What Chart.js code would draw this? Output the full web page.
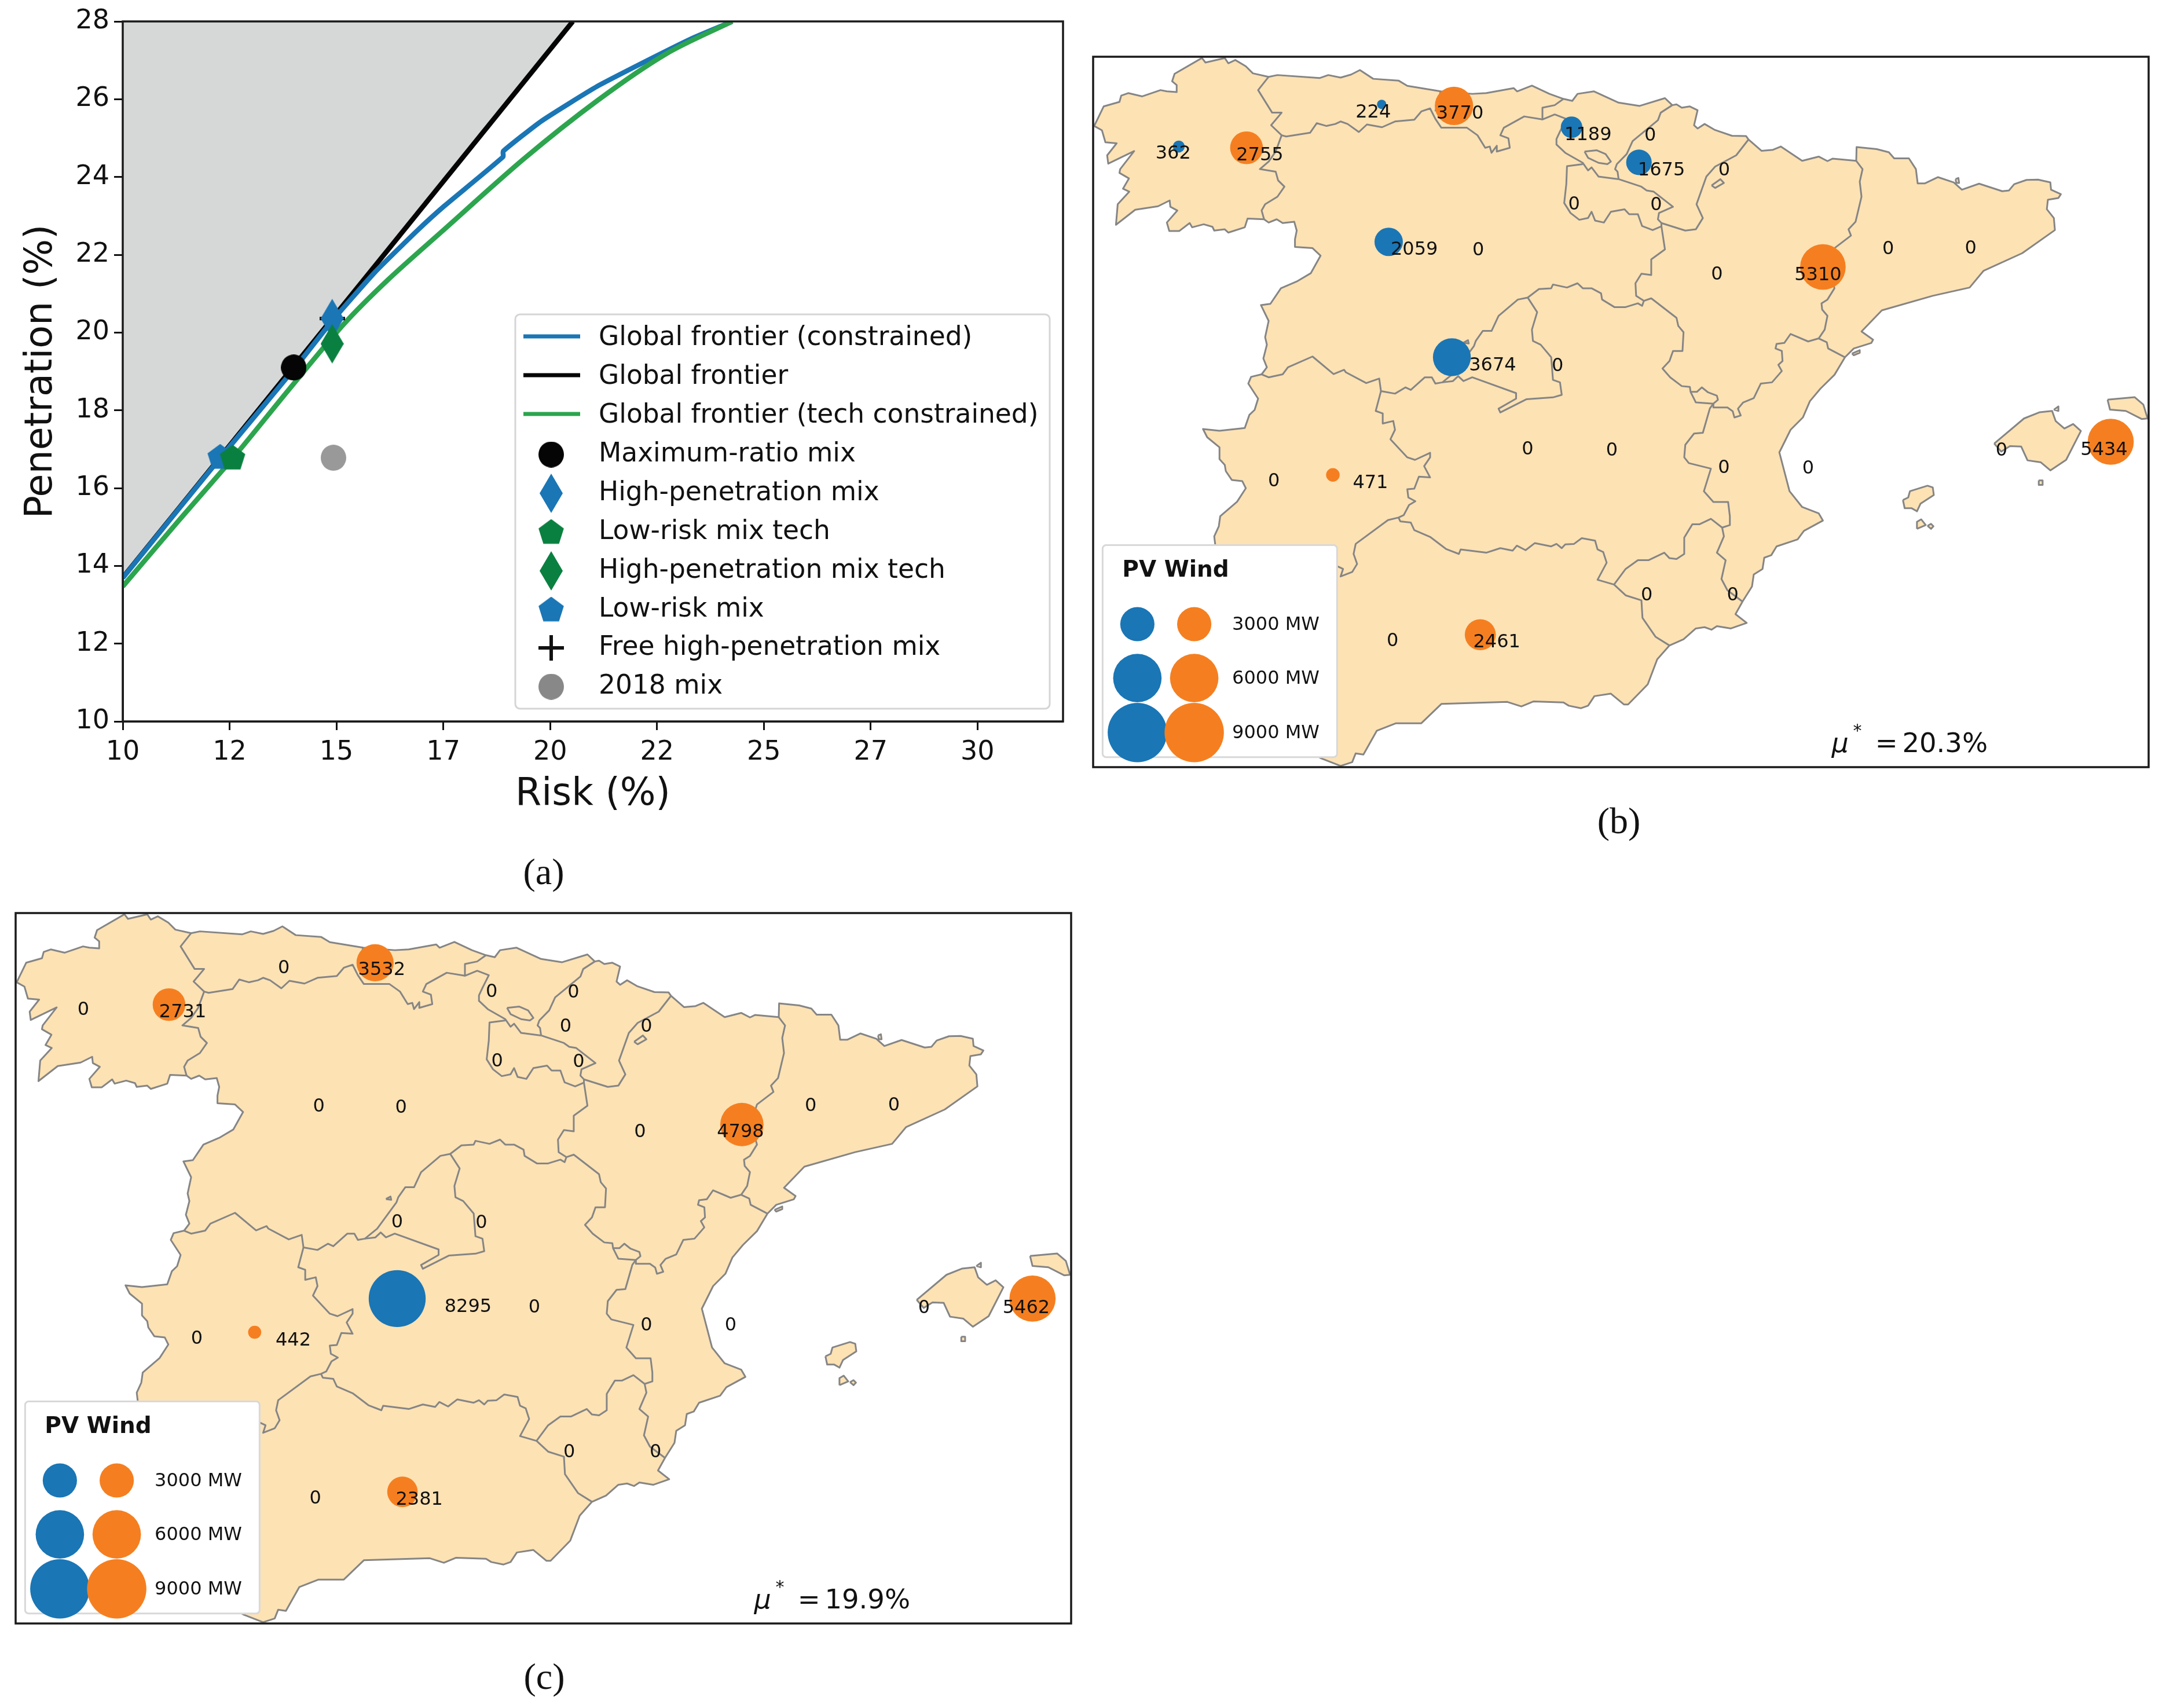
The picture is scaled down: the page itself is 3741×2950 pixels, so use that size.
<!DOCTYPE html>
<html>
<head>
<meta charset="utf-8">
<title>Penetration vs risk and wind/PV siting</title>
<script src="https://cdn.jsdelivr.net/npm/chart.js@4/dist/chart.umd.min.js"></script>
<style>
  html, body { margin: 0; padding: 0; background: #fff; }
  #page { position: relative; width: 3741px; height: 2950px; overflow: hidden; }
  canvas { position: absolute; }
  .caption { position: absolute; font: 64px "Liberation Serif", serif; color: #111; transform: translate(-50%, -50%); }
</style>
</head>
<body>
<div id="page">
  <canvas id="frontier" width="1880" height="1420" style="left:0;top:0"></canvas>
  <canvas id="mapB" width="1831" height="1235" style="left:1884px;top:94px"></canvas>
  <canvas id="mapC" width="1831" height="1235" style="left:23px;top:1573px"></canvas>
  <div class="caption" style="left:939px;top:1506px">(a)</div>
  <div class="caption" style="left:2796px;top:1418px">(b)</div>
  <div class="caption" style="left:940px;top:2896px">(c)</div>
</div>

<script>
// Frontier panel data (risk %, penetration %)
const globalFrontier = [[10, 13.7], [20.53, 28]];
const constrainedFrontier = [[10, 13.69], [12.3, 16.8], [14, 19.05], [14.9, 20.3], [15.9, 21.55], [16.87, 22.6], [17.52, 23.25], [18.9, 24.52], [18.9, 24.66], [19.8, 25.44], [21.1, 26.33], [22.48, 27.11], [23.37, 27.59], [24.26, 28]];
const techFrontier = [[10, 13.47], [11.3, 15.15], [12.6, 16.8], [13.9, 18.55], [15.16, 20.2], [16.2, 21.35], [17.47, 22.6], [19.39, 24.47], [21.1, 25.96], [22.72, 27.17], [24.26, 28]];
const maxRatioMix = [14, 19.1];
const highPenMix = [14.9, 20.36];
const lowRiskTechMix = [12.57, 16.78];
const highPenTechMix = [14.9, 19.71];
const lowRiskMix = [12.28, 16.8];
const freeHighPenMix = [14.9, 20.36];
const mix2018 = [14.93, 16.78];
const riskTicks = [10, 12.5, 15, 17.5, 20, 22.5, 25, 27.5, 30];
const riskTickLabels = ["10", "12", "15", "17", "20", "22", "25", "27", "30"];
const frontierLegend = ["Global frontier (constrained)", "Global frontier", "Global frontier (tech constrained)", "Maximum-ratio mix", "High-penetration mix", "Low-risk mix tech", "High-penetration mix tech", "Low-risk mix", "Free high-penetration mix", "2018 mix"];

// Map outline, traced in map units
const coast = [[33,318],[60,240],[105,222],[110,197],[130,187],[170,200],[222,175],[240,180],[268,183],[268,155],[255,140],[262,110],[340,47],[350,65],[405,47],[415,68],[435,55],[465,80],[485,108],[530,122],[555,115],[675,127],[700,115],[735,125],[765,113],[790,95],[828,130],[900,137],[925,158],[1020,180],[1110,190],[1150,187],[1228,167],[1238,180],[1280,157],[1330,190],[1370,210],[1395,218],[1410,190],[1457,180],[1527,225],[1587,238],[1659,207],[1680,235],[1692,232],[1707,245],[1730,240],[1752,255],[1742,315],[1752,328],[1772,310],[1800,333],[1850,357],[1890,358],[1897,372],[1934,417],[1967,413],[1989,400],[2050,457],[2097,440],[2122,458],[2137,448],[2204,457],[2205,402],[2262,410],[2297,423],[2312,447],[2354,447],[2374,490],[2379,547],[2399,547],[2437,522],[2482,543],[2505,572],[2554,548],[2620,578],[2639,575],[2654,550],[2689,533],[2722,532],[2757,543],[2759,572],[2787,590],[2780,605],[2750,612],[2747,650],[2767,685],[2770,733],[2677,825],[2567,895],[2527,962],[2422,995],[2277,1053],[2219,1137],[2252,1170],[2247,1183],[2197,1205],[2172,1240],[2142,1310],[2102,1365],[2072,1415],[2052,1480],[2017,1529],[1985,1619],[2014,1774],[2050,1837],[2097,1862],[2109,1891],[2055,1932],[2037,1966],[1977,1994],[1962,2029],[1942,2039],[1937,2084],[1912,2106],[1907,2154],[1880,2214],[1860,2264],[1892,2299],[1847,2321],[1807,2312],[1792,2326],[1772,2316],[1747,2321],[1712,2364],[1672,2389],[1637,2444],[1610,2544],[1554,2624],[1542,2624],[1505,2581],[1458,2591],[1440,2629],[1420,2639],[1385,2629],[1370,2616],[1285,2612],[1250,2632],[1210,2614],[1022,2622],[965,2699],[893,2699],[838,2729],[800,2824],[778,2819],[768,2854],[735,2869],[680,2839],[620,2790],[520,2700],[370,2660],[380,2400],[378,1989],[375,1954],[388,1914],[392,1874],[440,1816],[465,1762],[455,1734],[425,1729],[408,1694],[405,1669],[390,1646],[390,1599],[355,1559],[343,1526],[390,1533],[462,1522],[475,1470],[490,1450],[500,1405],[472,1345],[480,1318],[510,1308],[525,1280],[515,1245],[525,1190],[520,1160],[530,1095],[508,1032],[535,1027],[565,965],[610,938],[650,905],[678,835],[655,805],[605,800],[605,770],[610,735],[603,700],[570,705],[553,690],[530,703],[517,690],[470,687],[462,722],[415,743],[405,730],[375,735],[370,720],[345,710],[312,722],[305,705],[275,737],[247,737],[240,703],[270,655],[250,640],[248,615],[215,638],[150,652],[95,712],[100,630],[133,580],[115,568],[132,527],[105,505],[107,490],[147,418],[73,468],[70,435],[97,387],[65,383],[55,335],[33,318]];

const islands = [
  [[2597,1584],[2682,1484],[2727,1459],[2762,1454],[2772,1494],[2797,1524],[2822,1506],[2844,1534],[2802,1649],[2757,1691],[2730,1659],[2692,1651],[2674,1596],[2642,1594],[2617,1616],[2597,1584]],
  [[2767,1449],[2780,1436],[2780,1454],[2767,1449]],
  [[2920,1409],[2997,1399],[3022,1429],[3034,1484],[3017,1486],[2972,1454],[2927,1449],[2920,1409]],
  [[2724,1731],[2735,1731],[2735,1749],[2724,1749],[2724,1731]],
  [[2337,1809],[2352,1799],[2357,1774],[2407,1752],[2422,1759],[2425,1789],[2387,1824],[2377,1854],[2362,1842],[2342,1842],[2337,1809]],
  [[2377,1924],[2377,1896],[2389,1886],[2402,1909],[2377,1924]],
  [[2407,1912],[2417,1904],[2424,1914],[2417,1924],[2407,1912]],
  [[2192,1225],[2214,1212],[2214,1222],[2197,1232],[2192,1225]],
  [[2487,530],[2495,525],[2497,545],[2489,545],[2487,530]]
];

const borders = [
  // Galicia
  [[530,122],[500,175],[540,265],[567,265],[537,315],[567,355],[550,420],[530,460],[505,490],[550,500],[557,535],[575,560],[555,600],[520,630],[510,655],[517,690]],
  // Asturias and Cantabria south side
  [[567,355],[580,360],[648,345],[667,307],[695,318],[720,310],[735,300],[755,310],[787,342],[810,312],[853,323],[890,300],[945,293],[965,260],[990,248],[1005,290],[1022,325],[1095,325],[1125,355],[1147,405],[1160,400],[1165,425],[1180,397],[1180,420],[1217,405],[1213,367],[1190,355],[1200,325],[1258,280],[1310,292]],
  [[1020,180],[1005,260]],
  [[1370,210],[1345,235],[1310,245],[1310,292],[1345,272],[1378,290],[1360,340],[1350,370],[1350,392],[1375,425],[1425,465],[1440,495],[1450,483],[1470,520],[1527,530]],
  // Basque country / Navarra
  [[1680,235],[1647,265],[1639,295],[1567,378],[1550,430],[1522,470],[1517,490],[1524,500],[1527,530]],
  [[1430,420],[1465,415],[1490,430],[1505,460],[1495,470],[1470,465],[1440,445],[1430,420]],
  [[1792,555],[1817,530],[1827,545],[1802,565],[1792,555]],
  // La Rioja
  [[1425,470],[1380,478],[1378,550],[1372,625],[1390,665],[1415,692],[1440,685],[1450,660],[1460,695],[1485,703],[1505,660],[1544,650],[1557,670],[1582,670],[1594,717],[1624,733],[1649,718]],
  [[1527,530],[1592,560],[1607,575],[1627,580],[1682,640],[1642,665],[1639,690],[1649,705],[1649,718]],
  // Navarra / Aragon
  [[1649,705],[1717,735],[1747,730],[1767,685],[1749,630],[1777,520],[1802,480],[1862,435],[1897,372]],
  // Castilla y Leon south and east edge
  [[1649,718],[1659,810],[1620,850],[1620,912],[1592,907],[1575,945],[1577,995],[1599,1015],[1594,1035],[1582,1025],[1547,1040],[1515,1040],[1480,1010],[1477,985],[1450,965],[1425,965],[1410,945],[1380,962],[1340,950],[1335,965],[1300,968],[1268,1002],[1240,1010],[1185,1075],[1165,1135],[1140,1135],[1120,1175],[1115,1195],[1060,1300],[1025,1340],[1005,1345],[995,1320],[975,1320],[935,1370],[920,1360],[890,1385],[850,1375],[845,1325],[808,1343],[750,1300],[745,1290],[715,1307],[655,1237],[585,1280],[570,1308],[530,1320],[510,1308]],
  // Madrid
  [[1268,1002],[1295,1060],[1280,1130],[1283,1175],[1305,1190],[1335,1240],[1340,1330],[1360,1340],[1365,1390],[1340,1400],[1265,1407],[1190,1460],[1185,1445],[1235,1405],[1235,1383],[1110,1320],[1085,1335],[1070,1315],[1055,1335],[1025,1340]],
  [[1085,1182],[1098,1172],[1100,1185],[1085,1182]],
  // Extremadura
  [[850,1375],[835,1454],[855,1464],[855,1504],[885,1494],[890,1529],[877,1567],[925,1639],[947,1649],[990,1621],[990,1639],[973,1674],[990,1719],[958,1716],[945,1764],[925,1766],[928,1799],[948,1814],[930,1829],[915,1869],[900,1879],[870,1889],[778,1984],[772,2024],[782,2064],[768,2096],[735,2114],[742,2084],[727,2074],[700,2080],[600,2000],[378,1989]],
  // Castilla-La Mancha / Andalucia
  [[900,1879],[905,1894],[935,1899],[945,1929],[990,1956],[1035,2004],[1072,2024],[1077,2006],[1150,2019],[1190,2001],[1225,2011],[1237,1991],[1262,2009],[1288,1981],[1335,1994],[1350,1984],[1365,2001],[1375,1986],[1400,1984],[1422,1961],[1460,1971],[1467,2006],[1483,2016],[1493,2059],[1467,2127],[1514,2146],[1547,2189],[1592,2209],[1595,2279],[1632,2354],[1672,2389]],
  // Murcia
  [[1514,2146],[1547,2084],[1582,2049],[1612,2049],[1657,2019],[1672,2041],[1692,2044],[1714,2024],[1714,1959],[1737,1906],[1757,1906],[1790,1884],[1822,1919],[1827,1954],[1807,2019],[1832,2049],[1820,2124],[1837,2169],[1880,2214]],
  // Valencia / Castilla-La Mancha
  [[1822,1919],[1844,1909],[1844,1874],[1839,1817],[1797,1817],[1770,1774],[1790,1684],[1727,1662],[1714,1639],[1717,1589],[1742,1544],[1767,1541],[1787,1444],[1797,1425]],
  // Aragon / Castilla-La Mancha
  [[1599,1015],[1620,1005],[1692,1083],[1697,1115],[1712,1140],[1709,1215],[1682,1215],[1672,1255],[1652,1285],[1674,1320],[1707,1355],[1730,1358],[1732,1378],[1747,1420],[1797,1425],[1810,1410],[1807,1393],[1782,1380],[1764,1360],[1750,1378],[1732,1378]],
  // Aragon / Valencia
  [[1797,1425],[1797,1440],[1837,1440],[1852,1455],[1857,1480],[1875,1472],[1867,1445],[1882,1420],[1912,1403],[1932,1345],[1964,1340],[1992,1295],[1982,1270],[1994,1255],[1992,1215],[1974,1205],[1977,1187],[1999,1183],[2017,1147],[2067,1177],[2097,1165],[2120,1180],[2124,1205],[2172,1240]],
  // Aragon / Catalonia
  [[2204,457],[2222,490],[2214,540],[2219,600],[2202,700],[2182,730],[2189,755],[2142,805],[2125,880],[2142,965],[2122,1010],[2105,1025],[2107,1050],[2122,1075],[2114,1130],[2097,1165]]
];

// Panel (b): capacities in MW and where they sit on the map
const pvValuesB = [362, 224, 2059, 3674, 1189, 1675];
const pvSpotsB = [[274,400],[852,232],[872,780],[1052,1240],[1393,323],[1585,463]];
const pvLabelSpotsB = [[258,422],[828,258],[945,805],[1168,1267],[1440,348],[1649,490]];
const windValuesB = [2755, 3770, 5310, 471, 2461, 5434];
const windSpotsB = [[467,405],[1058,238],[2109,880],[713,1709],[1133,2346],[2929,1577]];
const windLabelSpotsB = [[505,430],[1075,262],[2095,907],[820,1736],[1180,2371],[2910,1604]];
const zeroSpotsB = [[1127,808],[1400,625],[1353,1270],[1617,350],[1828,490],[1634,628],[1807,905],[2295,803],[2530,800],[1268,1602],[1508,1606],[545,1729],[883,2366],[1827,1676],[2067,1677],[2618,1606],[1607,2184],[1852,2184]];

// Panel (c)
const pvValuesC = [8295];
const pvSpotsC = [[1117,1579]];
const pvLabelSpotsC = [[1319,1606]];
const windValuesC = [3532, 2731, 4798, 442, 2381, 5462];
const windSpotsC = [[1054,240],[467,407],[2099,885],[711,1713],[1132,2349],[2927,1579]];
const windLabelSpotsC = [[1073,263],[506,432],[2095,910],[821,1740],[1180,2374],[2909,1610]];
const zeroSpotsC = [[223,422],[794,257],[1386,350],[1619,352],[1597,490],[1827,490],[1402,628],[1634,630],[894,807],[1128,811],[1809,908],[2295,805],[2532,803],[1117,1268],[1357,1272],[1508,1608],[1827,1680],[2067,1680],[2618,1610],[546,1733],[1607,2186],[1853,2186],[884,2369]];

const sizeValues = [3000, 6000, 9000];
const sizeLabels = ["3000 MW", "6000 MW", "9000 MW"];
const sizeRows = [2304, 2519, 2736];

const BLUE = "#1a76b5";
const ORANGE = "#f57f20";
const DARK_GREEN = "#0a8040";
const FONT = '"DejaVu Sans", sans-serif';

const toXY = (pts) => pts.map(([x, y]) => ({ x, y }));
const mwRadius = (mw) => 0.54 * Math.sqrt(mw);

// Chart.js has no pentagon or thin diamond, so make small canvases for pointStyle
function marker(shape, color, w, h) {
  const c = document.createElement("canvas");
  c.width = w;
  c.height = h;
  const ctx = c.getContext("2d");
  ctx.fillStyle = color;
  ctx.strokeStyle = color;
  ctx.beginPath();
  if (shape === "circle") {
    ctx.ellipse(w / 2, h / 2, w / 2, h / 2, 0, 0, Math.PI * 2);
  } else if (shape === "diamond") {
    ctx.moveTo(w / 2, 0);
    ctx.lineTo(w, h / 2);
    ctx.lineTo(w / 2, h);
    ctx.lineTo(0, h / 2);
  } else if (shape === "pentagon") {
    for (let i = 0; i < 5; i++) {
      const a = -Math.PI / 2 + (i * 2 * Math.PI) / 5;
      ctx.lineTo(w / 2 + (w / 2) * Math.cos(a), h * 0.525 + h * 0.525 * Math.sin(a));
    }
  } else if (shape === "plus") {
    ctx.lineWidth = 6;
    ctx.moveTo(w / 2, 0);
    ctx.lineTo(w / 2, h);
    ctx.moveTo(0, h / 2);
    ctx.lineTo(w, h / 2);
    ctx.stroke();
    return c;
  }
  ctx.closePath();
  ctx.fill();
  return c;
}

const markers = {
  maxRatio: marker("circle", "#050505", 44, 45),
  highPen: marker("diamond", BLUE, 40, 68),
  lowTech: marker("pentagon", DARK_GREEN, 46, 45),
  highTech: marker("diamond", DARK_GREEN, 40, 68),
  low: marker("pentagon", BLUE, 46, 45),
  free: marker("plus", "#111", 44, 44),
  mix: marker("circle", "#999999", 44, 45),
  mixLegend: marker("circle", "#888888", 44, 45)
};

const boxFrame = {
  id: "boxFrame",
  afterDraw(chart) {
    const { left, top, width, height } = chart.chartArea;
    const ctx = chart.ctx;
    ctx.save();
    ctx.strokeStyle = "#1a1a1a";
    ctx.lineWidth = 3.5;
    ctx.strokeRect(left, top, width, height);
    ctx.restore();
  }
};

// Legend for the frontier panel
const frontierLegendPlugin = {
  id: "frontierLegendPlugin",
  afterDatasetsDraw(chart) {
    const ctx = chart.ctx;
    const rowY = [581, 648, 715, 782, 849, 916, 983, 1050, 1116, 1183];
    const handles = [BLUE, "#050505", "#2ca54e", markers.maxRatio, markers.highPen, markers.lowTech, markers.highTech, markers.low, markers.free, markers.mixLegend];
    ctx.save();
    ctx.beginPath();
    ctx.roundRect(890, 543, 923, 681, 8);
    ctx.fillStyle = "rgba(255,255,255,0.9)";
    ctx.fill();
    ctx.strokeStyle = "#d5d5d5";
    ctx.lineWidth = 3;
    ctx.stroke();
    ctx.font = "45.5px " + FONT;
    ctx.fillStyle = "#111";
    ctx.textBaseline = "middle";
    frontierLegend.forEach((label, i) => {
      const h = handles[i];
      if (typeof h === "string") {
        ctx.strokeStyle = h;
        ctx.lineWidth = 7;
        ctx.beginPath();
        ctx.moveTo(904, rowY[i]);
        ctx.lineTo(1002, rowY[i]);
        ctx.stroke();
      } else {
        ctx.drawImage(h, 952 - h.width / 2, rowY[i] + 3 - h.height / 2);
      }
      ctx.fillText(label, 1034, rowY[i] + 3);
    });
    ctx.restore();
  }
};

function mixDataset(label, point, style, order) {
  return {
    label,
    data: toXY([point]),
    pointStyle: style,
    pointRadius: 22,
    order
  };
}

function curveDataset(label, pts, color, width, order, extra) {
  return Object.assign({
    label,
    data: toXY(pts),
    showLine: true,
    borderColor: color,
    borderWidth: width,
    pointRadius: 0,
    order
  }, extra);
}

new Chart(document.getElementById("frontier"), {
  type: "scatter",
  data: {
    datasets: [
      mixDataset("Low-risk mix tech", lowRiskTechMix, markers.lowTech, 1),
      mixDataset("High-penetration mix tech", highPenTechMix, markers.highTech, 1),
      mixDataset("Maximum-ratio mix", maxRatioMix, markers.maxRatio, 1),
      mixDataset("High-penetration mix", highPenMix, markers.highPen, 2),
      mixDataset("Low-risk mix", lowRiskMix, markers.low, 2),
      mixDataset("Free high-penetration mix", freeHighPenMix, markers.free, 3),
      mixDataset("2018 mix", mix2018, markers.mix, 1),
      curveDataset("Global frontier (tech constrained)", techFrontier, "#2ca54e", 8.5, 4, { tension: 0.3 }),
      curveDataset("Global frontier (constrained)", constrainedFrontier, BLUE, 8.5, 5, { tension: 0.15 }),
      curveDataset("Global frontier", globalFrontier, "#050505", 8.5, 6, { fill: "end", backgroundColor: "#d6d8d7" })
    ]
  },
  options: {
    responsive: false,
    animation: false,
    layout: { autoPadding: false, padding: { top: 37, right: 44, left: 0, bottom: 0 } },
    plugins: { legend: { display: false }, tooltip: { enabled: false } },
    scales: {
      x: {
        type: "linear",
        min: 10,
        max: 32,
        afterFit: (s) => { s.height = 174; },
        afterBuildTicks: (s) => { s.ticks = riskTicks.map((value) => ({ value })); },
        ticks: {
          color: "#111",
          font: { family: FONT, size: 46 },
          padding: 11,
          maxRotation: 0,
          autoSkip: false,
          callback: (v) => riskTickLabels[riskTicks.indexOf(v)]
        },
        grid: { drawOnChartArea: false, tickLength: 15, tickWidth: 3, tickColor: "#111" },
        border: { color: "#1a1a1a", width: 3 },
        title: { display: true, text: "Risk (%)", color: "#111", font: { family: FONT, size: 65 }, padding: { top: 8, bottom: 8 } }
      },
      y: {
        type: "linear",
        min: 10,
        max: 28,
        afterFit: (s) => { s.width = 212; },
        ticks: { stepSize: 2, color: "#111", font: { family: FONT, size: 46 }, padding: 8 },
        grid: { drawOnChartArea: false, tickLength: 15, tickWidth: 3, tickColor: "#111" },
        border: { color: "#1a1a1a", width: 3 },
        title: { display: true, text: "Penetration (%)", color: "#111", font: { family: FONT, size: 65 }, padding: { top: 33, bottom: 33 } }
      }
    }
  },
  plugins: [boxFrame, frontierLegendPlugin]
});

// Map labels, the size legend box and the mu text
function mapTextPlugin(labels, muText) {
  return {
    id: "mapText",
    beforeDatasetDraw(chart, args) {
      if (args.meta.label !== "size legend") return;
      const { x, y } = chart.scales;
      const ctx = chart.ctx;
      const l = x.getPixelForValue(57), r = x.getPixelForValue(725);
      const t = y.getPixelForValue(1989), b = y.getPixelForValue(2834);
      ctx.save();
      ctx.beginPath();
      ctx.roundRect(l, t, r - l, b - t, 6);
      ctx.fillStyle = "#fff";
      ctx.fill();
      ctx.strokeStyle = "#d8d8d8";
      ctx.lineWidth = 3;
      ctx.stroke();
      ctx.restore();
    },
    afterDatasetsDraw(chart) {
      const { x, y } = chart.scales;
      const ctx = chart.ctx;
      const put = (text, u, v) => ctx.fillText(text, x.getPixelForValue(u), y.getPixelForValue(v));
      ctx.save();
      ctx.fillStyle = "#111";
      ctx.textBaseline = "middle";
      ctx.textAlign = "center";
      ctx.font = "32px " + FONT;
      labels.forEach(([text, u, v]) => put(text, u, v + 7));
      ctx.textAlign = "left";
      sizeLabels.forEach((label, i) => put(label, 426, sizeRows[i] + 3));
      ctx.font = "bold 39px " + FONT;
      put("PV Wind", 113, 2092);
      ctx.font = "italic 46px " + FONT;
      put("\u03bc", 2134, 2787);
      ctx.font = "30px " + FONT;
      put("*", 2195, 2733);
      ctx.font = "46.5px " + FONT;
      put("=", 2258, 2787);
      put(muText, 2335, 2787);
      ctx.restore();
    }
  };
}

function bubbles(label, spots, values, color) {
  return {
    type: "bubble",
    label,
    data: spots.map(([x, y], i) => ({ x, y, r: mwRadius(values[i]) })),
    backgroundColor: color,
    borderWidth: 0,
    order: 1
  };
}

function landDataset(pts, fill) {
  return {
    type: "scatter",
    label: "land",
    data: toXY(pts),
    showLine: true,
    fill: fill ? "shape" : false,
    backgroundColor: "#fde2b4",
    borderColor: "#858585",
    borderWidth: 3,
    borderJoinStyle: "round",
    pointRadius: 0,
    order: 5
  };
}

function drawMap(id, pv, pvSpots, pvLabelSpots, wind, windSpots, windLabelSpots, zeroSpots, muText) {
  const labels = [
    ...pv.map((v, i) => [String(v), pvLabelSpots[i][0], pvLabelSpots[i][1]]),
    ...wind.map((v, i) => [String(v), windLabelSpots[i][0], windLabelSpots[i][1]]),
    ...zeroSpots.map(([u, v]) => ["0", u, v])
  ];
  const blueKey = sizeRows.map((row) => [156, row]);
  const orangeKey = sizeRows.map((row) => [318, row]);
  const legendBlue = bubbles("size legend", blueKey, sizeValues, BLUE);
  const legendOrange = bubbles("size legend orange", orangeKey, sizeValues, ORANGE);
  legendBlue.order = 3;
  legendOrange.order = 2;

  new Chart(document.getElementById(id), {
    type: "scatter",
    data: {
      datasets: [
        bubbles("PV", pvSpots, pv, BLUE),
        bubbles("Wind", windSpots, wind, ORANGE),
        legendOrange,
        legendBlue,
        ...borders.map((b) => landDataset(b, false)),
        ...islands.map((b) => landDataset(b, true)),
        landDataset(coast, true)
      ]
    },
    options: {
      responsive: false,
      animation: false,
      layout: { autoPadding: false, padding: 4 },
      plugins: { legend: { display: false }, tooltip: { enabled: false } },
      scales: {
        x: { type: "linear", min: 30, max: 3037, display: false },
        y: { type: "linear", min: 42, max: 2874, reverse: true, display: false }
      }
    },
    plugins: [boxFrame, mapTextPlugin(labels, muText)]
  });
}

drawMap("mapB", pvValuesB, pvSpotsB, pvLabelSpotsB, windValuesB, windSpotsB, windLabelSpotsB, zeroSpotsB, "20.3%");
drawMap("mapC", pvValuesC, pvSpotsC, pvLabelSpotsC, windValuesC, windSpotsC, windLabelSpotsC, zeroSpotsC, "19.9%");
</script>
</body>
</html>
